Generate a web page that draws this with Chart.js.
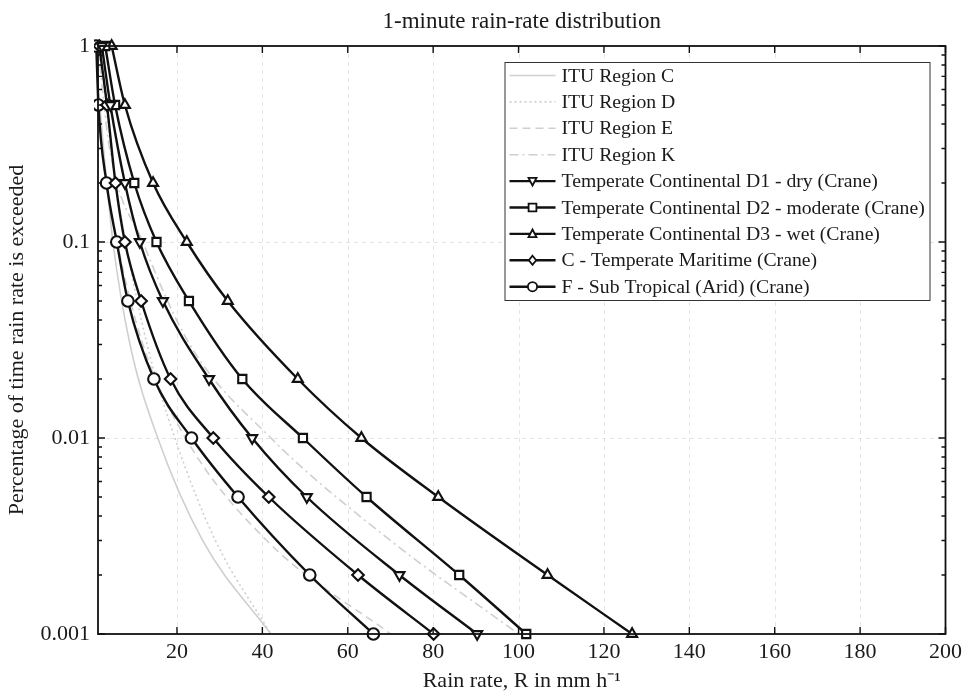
<!DOCTYPE html>
<html>
<head>
<meta charset="utf-8">
<script src="https://cdn.jsdelivr.net/npm/chart.js@4/dist/chart.umd.min.js"></script>
<style>
html,body{margin:0;padding:0;background:#fff;}
#wrap{width:967px;height:696px;}
</style>
</head>
<body>
<div id="wrap"><canvas id="c" width="967" height="696"></canvas></div>
<script>
// ---- data ----
const chartTitle = '1-minute rain-rate distribution';
const xAxisTitle = 'Rain rate, R in mm h\u207B\u00B9';
const yAxisTitle = 'Percentage of time rain rate is exceeded';

const xTicks = [20, 40, 60, 80, 100, 120, 140, 160, 180, 200];
const yDecades = [0.001, 0.01, 0.1, 1];
const yTickLabels = ['0.001', '0.01', '0.1', '1'];

// ITU-R regions (percentage levels and rain rates, mm/h)
const ituPercent = [1, 0.3, 0.1, 0.03, 0.01, 0.003, 0.001];
const ituC = [0.7, 2.8, 5, 9, 15.5, 26, 42];
const ituD = [2.1, 4.5, 8, 13, 19.5, 29, 42];
const ituE = [0.6, 2.4, 6, 12, 22, 41, 70];
const ituK = [1.5, 4.2, 12, 23, 42, 70, 100];

// Crane global model regions
const cranePercent = [1, 0.5, 0.2, 0.1, 0.05, 0.02, 0.01, 0.005, 0.002, 0.001];
const craneD1 = [2.4, 4.4, 7.8, 11.3, 16.7, 27.5, 37.6, 50.4, 72.1, 90.3];
const craneD2 = [3.2, 5.5, 10.0, 15.2, 22.8, 35.3, 49.5, 64.4, 86.1, 101.8];
const craneD3 = [4.7, 7.8, 14.4, 22.3, 31.9, 48.3, 63.2, 81.2, 106.8, 126.6];
const craneC  = [1.8, 3.6, 5.6, 7.8, 11.6, 18.5, 28.5, 41.5, 62.4, 80.1];
const craneF  = [1.1, 1.6, 3.5, 5.9, 8.5, 14.6, 23.4, 34.3, 51.1, 66.0];

const seriesLabels = [
  'ITU Region C', 'ITU Region D', 'ITU Region E', 'ITU Region K',
  'Temperate Continental D1 - dry (Crane)',
  'Temperate Continental D2 - moderate (Crane)',
  'Temperate Continental D3 - wet (Crane)',
  'C - Temperate Maritime (Crane)',
  'F - Sub Tropical (Arid) (Crane)'
];

// ---- helpers ----
const SERIF = "'Liberation Serif', 'Times New Roman', serif";
function pts(xs, ps) { return xs.map((x, i) => ({ x: x, y: ps[i] })); }

const ituGray = '#cfcfcf';
function ituSet(label, xs, dash) {
  return {
    label: label, data: pts(xs, ituPercent), borderColor: ituGray, borderWidth: 1.6,
    borderDash: dash, pointRadius: 0, pointHoverRadius: 0, fill: false,
    cubicInterpolationMode: 'monotone', order: 2, clip: {left: 0, top: 0, right: 0, bottom: 0}
  };
}
function craneSet(label, xs, style, rot) {
  return {
    label: label, data: pts(xs, cranePercent), borderColor: '#111', borderWidth: 2.4,
    pointStyle: style, pointRotation: rot, pointRadius: 5.8, pointBorderWidth: 2.1,
    pointBackgroundColor: '#fff', pointBorderColor: '#111', fill: false,
    cubicInterpolationMode: 'monotone', order: 1, clip: {left: 4, top: 8, right: 8, bottom: 8}
  };
}

const datasets = [
  ituSet(seriesLabels[0], ituC, []),
  ituSet(seriesLabels[1], ituD, [2, 3]),
  ituSet(seriesLabels[2], ituE, [8, 5]),
  ituSet(seriesLabels[3], ituK, [9, 4, 2, 4]),
  craneSet(seriesLabels[4], craneD1, 'triangle', 180),
  craneSet(seriesLabels[5], craneD2, 'rect', 0),
  craneSet(seriesLabels[6], craneD3, 'triangle', 0),
  craneSet(seriesLabels[7], craneC, 'rectRot', 0),
  craneSet(seriesLabels[8], craneF, 'circle', 0)
];

function drawMarker(ctx, style, rot, x, y, r) {
  ctx.beginPath();
  if (style === 'circle') {
    ctx.arc(x, y, r, 0, Math.PI * 2);
  } else if (style === 'rect') {
    const s = r * 0.85;
    ctx.rect(x - s, y - s, 2 * s, 2 * s);
  } else if (style === 'rectRot') {
    ctx.moveTo(x, y - r); ctx.lineTo(x + r * 0.8, y); ctx.lineTo(x, y + r); ctx.lineTo(x - r * 0.8, y); ctx.closePath();
  } else if (style === 'triangle') {
    const a0 = (rot || 0) * Math.PI / 180;
    for (let k = 0; k < 3; k++) {
      const a = a0 + k * 2 * Math.PI / 3;
      const px = x + Math.sin(a) * r, py = y - Math.cos(a) * r * 1.1 + (rot ? -1 : 1) * r * 0.15;
      if (k === 0) ctx.moveTo(px, py); else ctx.lineTo(px, py);
    }
    ctx.closePath();
  }
  ctx.fill(); ctx.stroke();
}

// grid, box and inward ticks like the MATLAB axes
const axesPlugin = {
  id: 'matlabAxes',
  beforeDatasetsDraw(chart) {
    const {ctx, chartArea: a, scales: {x, y}} = chart;
    ctx.save();
    ctx.strokeStyle = '#e4e4e4'; ctx.lineWidth = 1; ctx.setLineDash([4, 4]);
    xTicks.forEach(v => {
      const px = Math.round(x.getPixelForValue(v)) + 0.5;
      if (px > a.left + 2 && px < a.right - 2) { ctx.beginPath(); ctx.moveTo(px, a.top); ctx.lineTo(px, a.bottom); ctx.stroke(); }
    });
    yDecades.forEach(v => {
      const py = Math.round(y.getPixelForValue(v)) + 0.5;
      if (py > a.top + 2 && py < a.bottom - 2) { ctx.beginPath(); ctx.moveTo(a.left, py); ctx.lineTo(a.right, py); ctx.stroke(); }
    });
    ctx.restore();
  },
  afterDatasetsDraw(chart) {
    const {ctx, chartArea: a, scales: {x, y}} = chart;
    ctx.save();
    ctx.setLineDash([]);
    ctx.strokeStyle = '#111';
    ctx.lineWidth = 1.8;
    ctx.strokeRect(a.left, a.top, a.right - a.left, a.bottom - a.top);
    ctx.lineWidth = 1.4;
    // x ticks inward (bottom and top)
    xTicks.forEach(v => {
      const px = x.getPixelForValue(v);
      ctx.beginPath();
      ctx.moveTo(px, a.bottom); ctx.lineTo(px, a.bottom - 7);
      ctx.moveTo(px, a.top); ctx.lineTo(px, a.top + 7);
      ctx.stroke();
    });
    // y ticks: decades major, 2..9 minor
    for (let d = 0; d < yDecades.length; d++) {
      const dec = yDecades[d];
      const py = y.getPixelForValue(dec);
      ctx.beginPath();
      ctx.moveTo(a.left, py); ctx.lineTo(a.left + 7, py);
      ctx.moveTo(a.right, py); ctx.lineTo(a.right - 7, py);
      ctx.stroke();
      if (d < yDecades.length - 1) {
        for (let k = 2; k <= 9; k++) {
          const pm = y.getPixelForValue(dec * k);
          ctx.beginPath();
          ctx.moveTo(a.left, pm); ctx.lineTo(a.left + 4, pm);
          ctx.moveTo(a.right, pm); ctx.lineTo(a.right - 4, pm);
          ctx.stroke();
        }
      }
    }
    ctx.restore();
  },
  afterDraw(chart) {
    // legend box inside the plot, top right
    const {ctx, chartArea: a} = chart;
    const bx = a.right - 441, by = a.top + 16, bw = 425, bh = 238;
    ctx.save();
    ctx.fillStyle = '#fff';
    ctx.fillRect(bx, by, bw, bh);
    ctx.strokeStyle = '#333'; ctx.lineWidth = 1; ctx.setLineDash([]);
    ctx.strokeRect(bx + 0.5, by + 0.5, bw, bh);
    ctx.font = '19.7px ' + SERIF;
    ctx.textBaseline = 'middle';
    ctx.textAlign = 'left';
    chart.data.datasets.forEach((ds, i) => {
      const cy = by + 13.5 + i * 26.4;
      const x0 = bx + 5, x1 = bx + 51;
      ctx.save();
      ctx.strokeStyle = ds.borderColor; ctx.lineWidth = ds.borderWidth;
      ctx.setLineDash(ds.borderDash || []);
      ctx.beginPath(); ctx.moveTo(x0, cy); ctx.lineTo(x1, cy); ctx.stroke();
      ctx.setLineDash([]);
      if (ds.pointRadius > 0) {
        ctx.fillStyle = '#fff'; ctx.strokeStyle = ds.pointBorderColor; ctx.lineWidth = 1.8;
        drawMarker(ctx, ds.pointStyle, ds.pointRotation, (x0 + x1) / 2, cy, 4.6);
      }
      ctx.restore();
      ctx.fillStyle = '#1a1a1a';
      ctx.fillText(ds.label, bx + 57, cy + 1);
    });
    ctx.restore();
  }
};

new Chart(document.getElementById('c'), {
  type: 'line',
  data: { datasets: datasets },
  plugins: [axesPlugin],
  options: {
    responsive: false,
    animation: false,
    devicePixelRatio: 1,
    layout: { padding: { left: 0, right: 21, top: 0, bottom: 0 } },
    elements: { line: { tension: 0 } },
    plugins: {
      legend: { display: false },
      tooltip: { enabled: false },
      title: {
        display: true, text: chartTitle, fullSize: false, color: '#1a1a1a',
        font: { family: SERIF, size: 23, weight: 'normal', lineHeight: 1.2 },
        padding: { top: 8, bottom: 10.4 }
      }
    },
    scales: {
      x: {
        type: 'linear', min: 1.5, max: 200,
        afterBuildTicks: s => { s.ticks = xTicks.map(v => ({ value: v })); },
        afterFit: s => { s.height = 62; },
        grid: { display: false, drawTicks: false },
        border: { display: false },
        ticks: { color: '#1a1a1a', padding: 5, maxRotation: 0, autoSkip: false,
                 font: { family: SERIF, size: 22 } },
        title: { display: true, text: xAxisTitle, color: '#1a1a1a',
                 font: { family: SERIF, size: 22 }, padding: { top: 0, bottom: 2 } }
      },
      y: {
        type: 'logarithmic', min: 0.001, max: 1,
        afterBuildTicks: s => { s.ticks = yDecades.map(v => ({ value: v })); },
        afterFit: s => { s.width = 98; },
        grid: { display: false, drawTicks: false },
        border: { display: false },
        ticks: {
          color: '#1a1a1a', padding: 8, autoSkip: false,
          font: { family: SERIF, size: 22 },
          callback: v => {
            const i = yDecades.findIndex(d => Math.abs(v - d) / d < 1e-6);
            return i >= 0 ? yTickLabels[i] : '';
          }
        },
        title: { display: true, text: yAxisTitle, color: '#1a1a1a',
                 font: { family: SERIF, size: 22 }, padding: { top: 4, bottom: 0 } }
      }
    }
  }
});
</script>
</body>
</html>
